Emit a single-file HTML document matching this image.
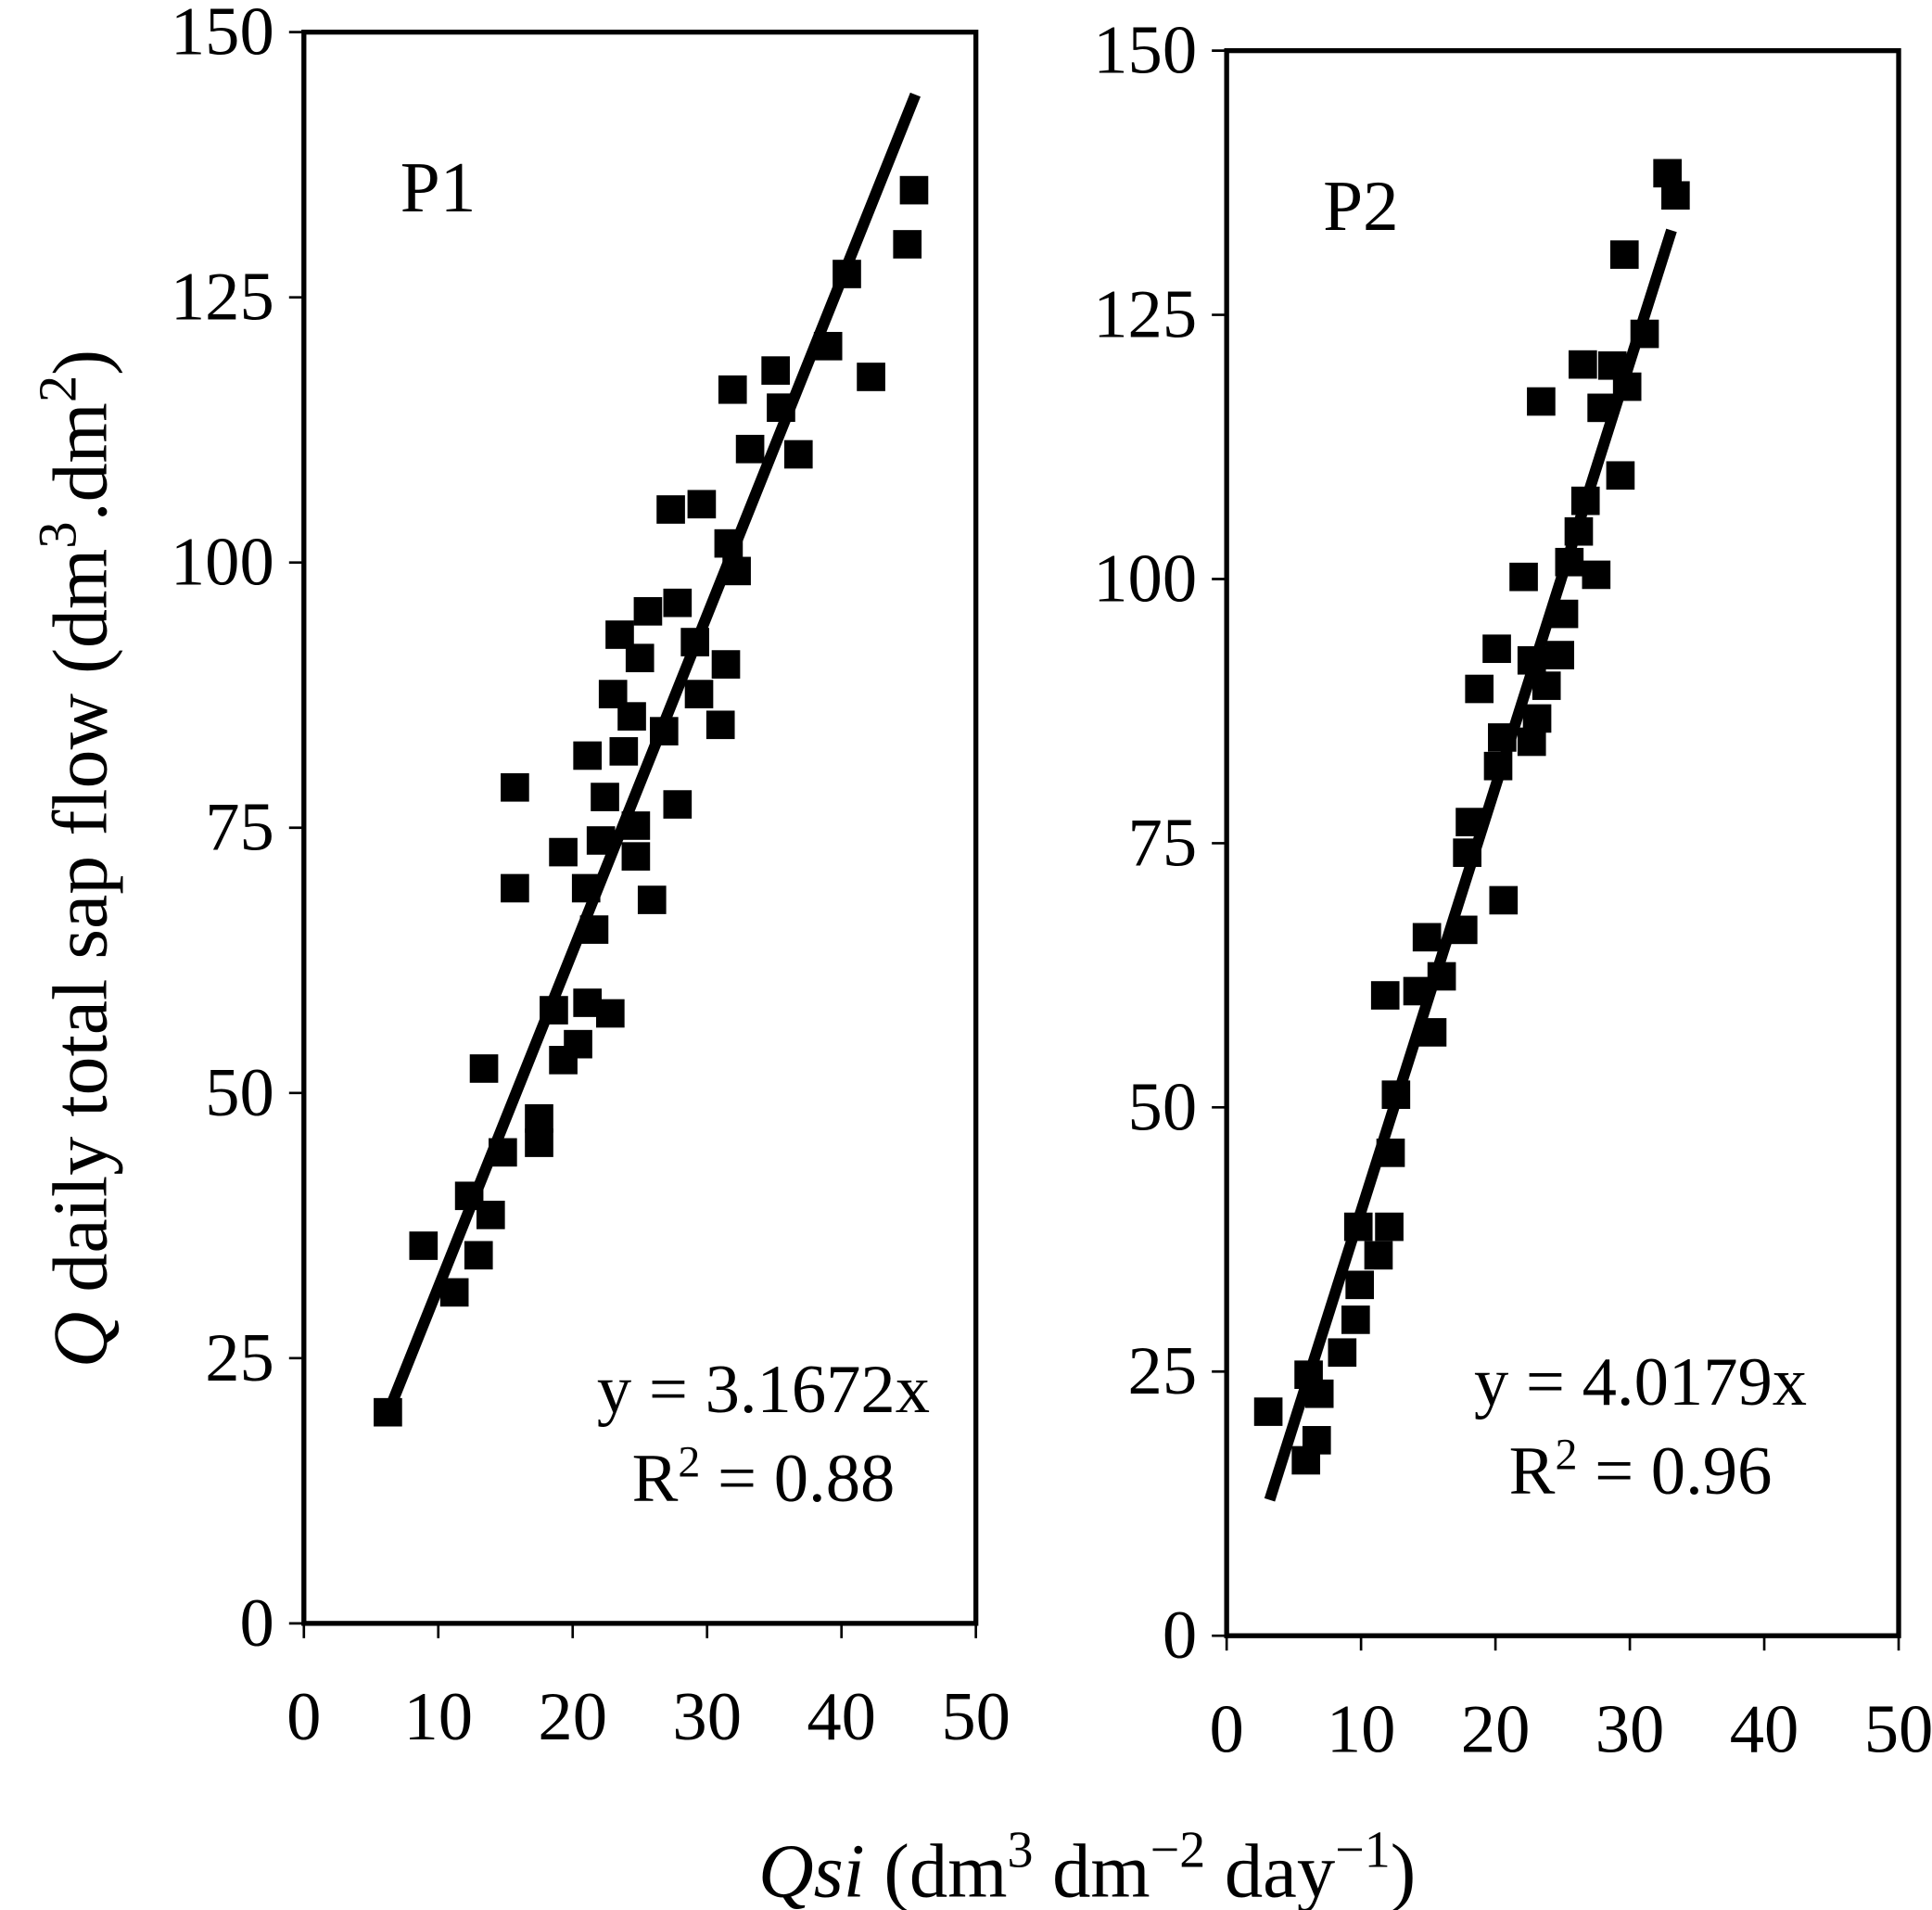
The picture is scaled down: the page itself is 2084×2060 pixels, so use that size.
<!DOCTYPE html>
<html><head><meta charset="utf-8"><style>
html,body{margin:0;padding:0;background:#fff;}
svg{display:block;font-family:"Liberation Serif",serif;}
</style></head><body>
<svg id="chart" width="2084" height="2060" viewBox="0 0 1564 1546" preserveAspectRatio="none" xmlns="http://www.w3.org/2000/svg">
<text transform="translate(86,695) rotate(-90)" text-anchor="middle" font-size="63"><tspan font-style="italic">Q</tspan> daily total sap flow (dm<tspan dy="-25" font-size="44">3</tspan><tspan dy="25">.dm</tspan><tspan dy="-25" font-size="44">2</tspan><tspan dy="25">)</tspan></text>
<text x="880" y="1535" text-anchor="middle" font-size="62"><tspan font-style="italic">Qsi</tspan> (dm<tspan dy="-24" font-size="42">3</tspan><tspan dy="24"> dm</tspan><tspan dy="-24" font-size="42">−2</tspan><tspan dy="24"> day</tspan><tspan dy="-24" font-size="42">−1</tspan><tspan dy="24">)</tspan></text>
</svg>
<script>
const p1X = [6.25,8.9,11.2,12.3,13.0,13.4,13.9,14.8,15.7,15.7,17.5,17.5,18.6,19.3,19.3,20.4,21.0,21.1,21.6,22.1,22.4,21.1,22.8,23.8,24.7,24.7,23.5,23.0,25.0,24.4,25.9,25.6,26.8,27.3,27.8,27.8,29.1,29.6,29.4,31.0,31.4,31.6,32.2,31.9,33.2,35.1,35.5,36.8,39.0,40.4,42.2,44.9,45.4];
const p1Y = [19.9,35.6,31.2,40.3,34.7,52.3,38.5,44.4,78.8,69.3,45.3,47.6,57.8,72.7,53.1,54.6,69.3,58.5,65.4,73.8,77.9,81.8,57.5,82.2,75.2,72.3,93.2,87.6,91.0,85.5,68.2,95.4,84.1,105.0,96.2,77.2,92.5,105.5,87.6,84.7,90.4,101.8,99.2,116.3,110.7,118.1,114.6,110.2,120.4,127.2,117.5,130.0,135.1];
const p2X = [3.1,5.9,6.1,6.9,6.7,8.6,9.6,9.9,9.8,11.3,12.1,11.8,12.2,12.6,14.2,14.9,15.3,16.0,17.6,17.9,18.1,18.8,20.6,20.2,20.5,20.1,22.1,22.7,23.1,23.4,22.7,23.8,24.8,25.1,25.5,26.2,26.5,26.7,27.5,27.9,28.7,29.3,29.8,29.6,31.1,33.4,32.8];
const p2Y = [21.2,16.6,24.7,22.9,18.5,26.8,29.9,33.2,38.7,36.0,38.7,60.6,45.7,51.2,61.0,66.1,57.1,62.4,66.8,74.1,77.0,89.6,69.6,82.3,85.0,93.4,100.2,84.6,86.8,116.8,92.3,89.9,92.8,96.7,101.6,104.5,120.3,107.4,100.4,116.2,120.2,109.8,118.2,130.7,123.2,136.3,138.4];
const slopes = [3.1672, 4.0179];
const fitRange = [[6.3,45.5],[3.2,33.1]];
const r2 = ["0.88","0.96"];
const labels = ["P1","P2"];
const xTicks = [0,10,20,30,40,50];
const yTicks = [0,25,50,75,100,125,150];

const NS="http://www.w3.org/2000/svg";
const svg=document.getElementById('chart');
function mk(tag,attrs,parent){const e=document.createElementNS(NS,tag);for(const k in attrs)e.setAttribute(k,attrs[k]);(parent||svg).appendChild(e);return e;}
const panels=[{L:246,R:790,T:26,B:1314,xs:p1X,ys:p1Y,eqx:618},{L:993,R:1537,T:41,B:1324,xs:p2X,ys:p2Y,eqx:1328}];
panels.forEach((p,i)=>{
  const g=mk('g',{});
  
  
  const sx=v=>p.L+(v/50)*(p.R-p.L);
  const sy=v=>p.B-(v/150)*(p.B-p.T);
  const box=mk('rect',{x:p.L,y:p.T,width:p.R-p.L,height:p.B-p.T,fill:'none',stroke:'#000','stroke-width':4},g);
  
  
  yTicks.forEach(t=>{
    const y=sy(t);
    const l=mk('line',{x1:p.L-12,x2:p.L,y1:y,y2:y,stroke:'#000','stroke-width':2},g);
    
    
    const tx=mk('text',{x:p.L-24,y:y+18,'text-anchor':'end','font-size':56},g);
    tx.textContent=t;
    
    
  });
  xTicks.forEach(t=>{
    const x=sx(t);
    const l=mk('line',{x1:x,x2:x,y1:p.B,y2:p.B+12,stroke:'#000','stroke-width':2},g);
    
    
    const tx=mk('text',{x:x,y:p.B+94,'text-anchor':'middle','font-size':56},g);
    tx.textContent=t;
    
    
  });
  p.xs.forEach((xv,j)=>{
    const r=mk('rect',{x:sx(xv)-11.5,y:sy(p.ys[j])-11.5,width:23,height:23,fill:'#000'},g);
    
    
  });
  const [a,b]=fitRange[i];
  const ln=mk('line',{x1:sx(a),y1:sy(a*slopes[i]),x2:sx(b),y2:sy(b*slopes[i]),stroke:'#000','stroke-width':9},g);
  
  
  const lab=mk('text',{x:p.L+78,y:p.T+145,'font-size':58},g);
  lab.textContent=labels[i];
  
  
  const eq=mk('text',{x:p.eqx,y:i==0?1143:1137,'text-anchor':'middle','font-size':56},g);
  eq.textContent='y = '+slopes[i]+'x';
  
  
  const rr=mk('text',{x:p.eqx,y:i==0?1215:1209,'text-anchor':'middle','font-size':56},g);
  rr.innerHTML='R<tspan dy="-20" font-size="36">2</tspan><tspan dy="20"> = '+r2[i]+'</tspan>';
  
  
});
</script>
</body></html>
